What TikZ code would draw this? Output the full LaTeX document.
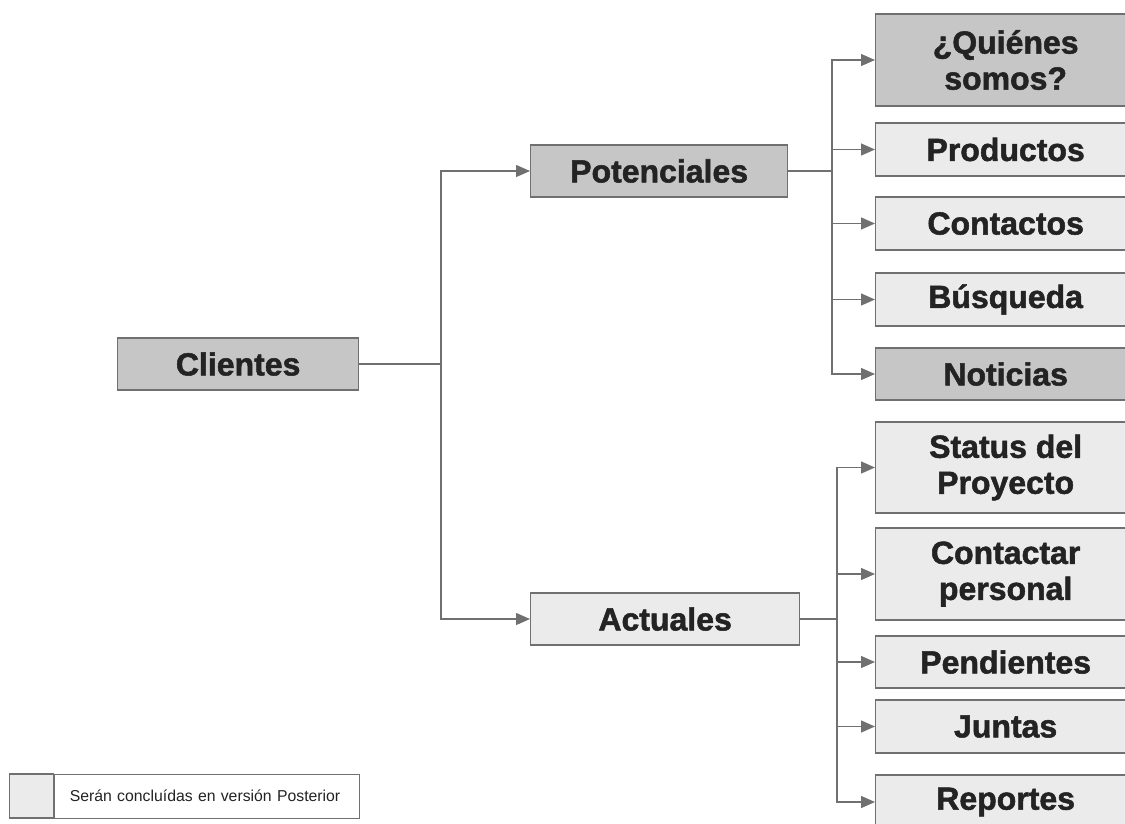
\documentclass[tikz,border=0pt]{standalone}
\usepackage{fontspec}
\setmainfont{Liberation Sans}
\newfontfamily\heavyfont{Liberation Sans Bold}[FakeBold=1.6]
\usetikzlibrary{arrows.meta}
\definecolor{dk}{HTML}{C6C6C6}
\definecolor{lt}{HTML}{EBEBEB}
\definecolor{ln}{HTML}{707070}
\definecolor{tx}{HTML}{232323}
\tikzset{
  box/.style={draw=ln, line width=1.3pt, anchor=west, inner sep=0pt, align=center,
    font=\fontsize{32}{36}\heavyfont, text=tx},
  done/.style={box, fill=dk},
  todo/.style={box, fill=lt},
  link/.style={draw=ln, line width=1.3pt},
  arr/.style={link, -{Triangle[length=14pt,width=12pt]}},
  right box/.style={minimum width=260pt},
}
\begin{document}
\begin{tikzpicture}[x=1pt,y=-1pt]
\useasboundingbox (0,0) rectangle (1125,823);

% first and second level
\node[done, minimum width=241pt, minimum height=52pt] (cli) at (117,364) {Clientes};
\node[done, minimum width=257pt, minimum height=52pt] (pot) at (530,171) {Potenciales};
\node[todo, minimum width=269pt, minimum height=52pt] (act) at (530,619) {Actuales};

% pages under "Potenciales"
\node[done, right box, minimum height=92pt] (qui) at (875,60)    {¿Quiénes\\somos?};
\node[todo, right box, minimum height=53pt] (pro) at (875,149.5) {Productos};
\node[todo, right box, minimum height=53pt] (con) at (875,223.5) {Contactos};
\node[todo, right box, minimum height=53pt] (bus) at (875,299.5) {Búsqueda};
\node[done, right box, minimum height=52pt] (not) at (875,374)   {Noticias};

% pages under "Actuales"
\node[todo, right box, minimum height=91pt] (sta) at (875,467.5) {Status del\\Proyecto};
\node[todo, right box, minimum height=92pt] (ctp) at (875,574)   {Contactar\\personal};
\node[todo, right box, minimum height=52pt] (pen) at (875,662)   {Pendientes};
\node[todo, right box, minimum height=53pt] (jun) at (875,726.5) {Juntas};
\node[todo, right box, minimum height=54pt] (rep) at (875,802)   {Reportes};

% junctions
\coordinate (j0) at (441,364);
\coordinate (j1) at (832,171);
\coordinate (j2) at (837,619);

\draw[link] (cli.east) -- (j0);
\draw[arr] (j0) |- (pot.west);
\draw[arr] (j0) |- (act.west);

\draw[link] (pot.east) -- (j1);
\foreach \n in {qui,pro,con,bus,not}
  \draw[arr] (j1) |- (\n.west);

\draw[link] (act.east) -- (j2);
\foreach \n in {sta,ctp,pen,jun,rep}
  \draw[arr] (j2) |- (\n.west);

% legend
\node[draw=ln, line width=1.3pt, fill=lt, minimum width=44pt, minimum height=44pt,
  inner sep=0pt, anchor=west] (key) at (9,796) {};
\node[draw=ln, line width=1pt, text width=305pt, align=left, minimum height=44pt,
  inner sep=0pt, anchor=west, text=tx, font=\fontsize{15.8}{19}\selectfont]
  (keytext) at (key.east) {\hspace*{15pt}Serán concluídas en versión Posterior};
\end{tikzpicture}
\end{document}
